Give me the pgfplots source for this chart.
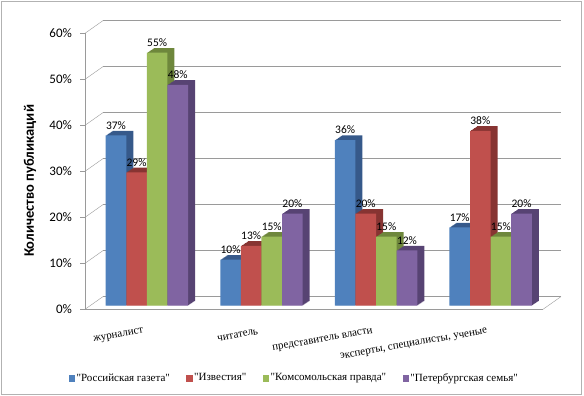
\documentclass[border=0pt]{standalone}
\usepackage{fontspec}
\setmainfont{Liberation Serif}
\newfontfamily\serifLS{Liberation Serif}
\newfontfamily\carlito{Carlito}
\usepackage{pgfplots}
\usepackage{pgfplotstable}
\pgfplotsset{compat=1.18}
\definecolor{cblue}{HTML}{4F81BD}
\definecolor{cblueD}{HTML}{36598A}
\definecolor{cred}{HTML}{C0504D}
\definecolor{credD}{HTML}{873432}
\definecolor{cgreen}{HTML}{9BBB59}
\definecolor{cgreenD}{HTML}{6E873C}
\definecolor{cpurple}{HTML}{8064A2}
\definecolor{cpurpleD}{HTML}{574373}
\definecolor{gridgray}{HTML}{9A9A9A}
\pgfplotstableread{
x a b c d
0 37 29 55 48
1 10 13 15 20
2 36 20 15 12
3 17 38 15 20
}\data
\newcommand{\q}{\textquotedbl}
\newcommand{\sr}{\serifLS\mdseries\upshape\fontsize{11}{12}\selectfont}
\begin{document}
\begin{tikzpicture}
\path[use as bounding box] (0,0) rectangle (584pt,396pt);
\draw[gray!60, line width=0.9pt] (1.5pt,1.5pt) rectangle (581.5pt,394.5pt);
\begin{axis}[
  at={(85pt,86.7pt)}, anchor=south west, scale only axis,
  width=458pt, height=276pt,
  xmin=-0.54, xmax=3.457, ymin=0, ymax=60,
  axis x line*=bottom, axis y line*=left,
  axis line style={draw=gridgray, -},
  /pgf/number format/assume math mode=true,
  ytick={0,10,...,60},
  yticklabel={\pgfmathprintnumber{\tick}\%},
  yticklabel style={font=\carlito\mdseries\fontsize{13}{15}\selectfont, text=black, xshift=-5pt},
  tick align=outside, major tick length=4.5pt,
  ytick style={draw=gridgray},
  xtick={0,1,2,3}, xtick style={draw=none},
  xticklabels={{\sr журналист}, {\sr читатель}, {\sr представитель власти}, {\sr эксперты, специалисты, ученые}},
  xticklabel style={rotate=10, anchor=east, font=\sr, xshift=-3pt, yshift=-17pt},
  ymajorgrids, major grid style={draw=gridgray, xshift=18pt, yshift=12.7pt},
  ylabel={\carlito\bfseries Количество публикаций},
  every axis y label/.style={at={(axis description cs:-0.120,0.465)}, rotate=90, anchor=center,
     font=\carlito\bfseries\fontsize{14.5}{17}\selectfont},
  legend style={at={(axis description cs:0.457,-0.249)}, anchor=center, draw=none, fill=none,
    legend columns=4, font=\sr,
    /tikz/every even column/.append style={column sep=14.5pt}},
  legend cell align=left,
  clip=false,
]
% left connectors of back wall
\pgfplotsinvokeforeach{0,10,...,60}{
  \draw[gridgray] (axis cs:-0.54,#1) -- ++(18pt,12.7pt);
}
\draw[gridgray] (axis cs:3.457,0) -- ++(18pt,12.7pt);

% series a
\pgfplotsinvokeforeach{1,...,7}{
 \addplot[ybar, bar width=20.6pt, bar shift=-30.9pt, fill=cblueD, draw=none, forget plot, xshift=#1pt, yshift={3.6pt+0.67*#1pt}] table[x=x,y=a]{\data};
}
\addplot[ybar, bar width=20.6pt, bar shift=-30.9pt, fill=cblue, draw=none, forget plot, yshift=3.6pt] table[x=x,y=a]{\data};
% series b
\pgfplotsinvokeforeach{1,...,7}{
 \addplot[ybar, bar width=20.6pt, bar shift=-10.3pt, fill=credD, draw=none, forget plot, xshift=#1pt, yshift={3.6pt+0.67*#1pt}] table[x=x,y=b]{\data};
}
\addplot[ybar, bar width=20.6pt, bar shift=-10.3pt, fill=cred, draw=none, forget plot, yshift=3.6pt] table[x=x,y=b]{\data};
% series c
\pgfplotsinvokeforeach{1,...,7}{
 \addplot[ybar, bar width=20.6pt, bar shift=10.3pt, fill=cgreenD, draw=none, forget plot, xshift=#1pt, yshift={3.6pt+0.67*#1pt}] table[x=x,y=c]{\data};
}
\addplot[ybar, bar width=20.6pt, bar shift=10.3pt, fill=cgreen, draw=none, forget plot, yshift=3.6pt] table[x=x,y=c]{\data};
% series d
\pgfplotsinvokeforeach{1,...,7}{
 \addplot[ybar, bar width=20.6pt, bar shift=30.9pt, fill=cpurpleD, draw=none, forget plot, xshift=#1pt, yshift={3.6pt+0.67*#1pt}] table[x=x,y=d]{\data};
}
\addplot[ybar, bar width=20.6pt, bar shift=30.9pt, fill=cpurple, draw=none, forget plot, yshift=3.6pt] table[x=x,y=d]{\data};

% value labels
\pgfplotsset{lbl/.style={only marks, mark=none, forget plot, yshift=3.6pt,
  point meta=y, nodes near coords={\pgfmathprintnumber{\pgfplotspointmeta}\%},
  every node near coord/.append style={font=\carlito\mdseries\fontsize{11.5}{13}\selectfont, text=black, inner sep=0pt, anchor=south, yshift=6pt, xshift=#1}}}
\addplot[lbl=-30.9pt] table[x=x,y=a]{\data};
\addplot[lbl=-10.3pt] table[x=x,y=b]{\data};
\addplot[lbl=10.3pt] table[x=x,y=c]{\data};
\addplot[lbl=30.9pt] table[x=x,y=d]{\data};

\addlegendimage{legend image code/.code={\fill[cblue] (0pt,-2.7pt) rectangle (5.4pt,2.7pt);}}
\addlegendentry{\sr\q Российская газета\q}
\addlegendimage{legend image code/.code={\fill[cred] (0pt,-2.7pt) rectangle (5.4pt,2.7pt);}}
\addlegendentry{\sr\q Известия\q}
\addlegendimage{legend image code/.code={\fill[cgreen] (0pt,-2.7pt) rectangle (5.4pt,2.7pt);}}
\addlegendentry{\sr\q Комсомольская правда\q}
\addlegendimage{legend image code/.code={\fill[cpurple] (0pt,-2.7pt) rectangle (5.4pt,2.7pt);}}
\addlegendentry{\sr\q Петербургская семья\q}
\end{axis}
\end{tikzpicture}
\end{document}
